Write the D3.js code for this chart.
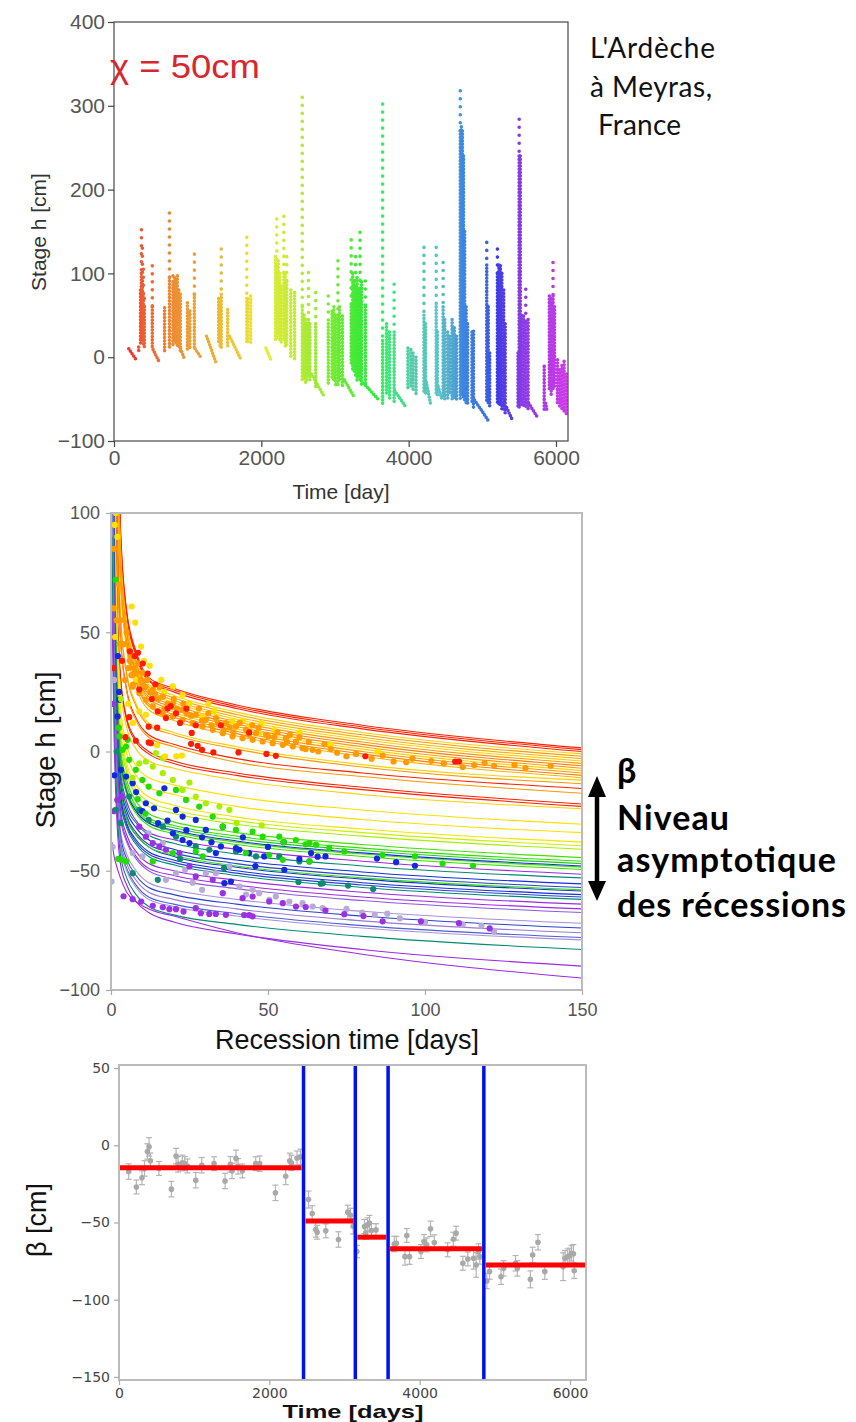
<!DOCTYPE html>
<html>
<head>
<meta charset="utf-8">
<script src="https://cdn.jsdelivr.net/npm/d3@7"></script>
<style>
  body { margin: 0; background: #fff; }
  svg { display: block; }
</style>
</head>
<body>
<svg id="fig" width="856" height="1422"></svg>
<script>
// ---------- top panel : stage record, one column of daily readings per flood ----------
// [time (day), highest stage, stage where the readings get dense, lowest stage]
const stageColumns = [
  [335,12,12,5],[360,80,80,15],[372,152,100,18],[385,130,95,20],[398,105,75,12],[412,70,60,10],
  [520,109,60,9],[686,59,59,5],[753,172,95,12],[800,97,90,15],[820,95,95,18],[840,92,92,15],
  [860,97,97,12],[880,80,80,10],[900,75,75,8],[997,65,65,8],[1030,55,55,8],[1091,123,75,10],
  [1420,70,70,15],[1440,65,65,12],[1456,129,75,10],[1543,57,57,12],[1803,143,70,15],[1815,70,70,17],
  [1855,73,73,15],[2192,120,120,20],[2210,165,110,22],[2230,115,115,25],[2250,100,100,20],
  [2270,85,85,18],[2306,168,100,20],[2325,100,100,12],[2345,120,90,15],[2400,80,80,0],[2452,77,77,-3],
  [2556,310,60,-27],[2582,50,50,-28],[2600,45,45,-30],[2620,40,40,-28],[2640,101,45,-25],
  [2660,40,40,-30],[2738,77,40,-35],[2909,73,40,-31],[2960,55,55,-25],[2985,60,60,-30],
  [3010,50,50,-33],[3040,115,50,-35],[3060,60,60,-30],[3101,49,49,-37],[3220,140,60,-10],
  [3240,100,100,-15],[3260,90,90,-20],[3280,120,85,-25],[3300,95,95,-30],[3320,80,80,-25],
  [3340,149,80,-30],[3360,90,90,-35],[3413,91,60,-31],[3647,302,20,-55],[3700,40,40,-45],
  [3740,30,30,-50],[3803,87,30,-55],[3990,11,11,-40],[4030,9,9,-35],[4060,5,5,-40],[4100,0,0,-45],
  [4208,131,50,-43],[4230,40,40,-45],[4374,131,60,-45],[4390,30,30,-48],[4468,113,60,-48],
  [4490,45,45,-50],[4530,30,30,-50],[4560,25,25,-45],[4590,45,45,-52],[4620,35,35,-50],
  [4650,25,25,-52],[4701,318,270,-50],[4715,275,275,-45],[4730,270,270,-48],[4745,240,240,-50],
  [4760,150,150,-52],[4780,60,60,-55],[4800,40,40,-55],[4860,30,30,-55],[4880,31,31,-60],
  [5060,137,110,-55],[5080,60,60,-58],[5100,5,5,-60],[5205,129,100,-55],[5225,110,110,-58],
  [5245,109,109,-60],[5265,100,100,-62],[5290,80,80,-65],[5310,40,40,-68],[5485,5,5,-60],
  [5500,284,240,-60],[5515,240,240,-55],[5530,50,50,-58],[5560,49,49,-60],[5590,81,40,-62],
  [5621,45,45,-65],[5840,-11,-11,-65],[5910,73,73,-40],[5935,70,70,-45],[5960,113,73,-40],
  [5980,60,60,-35],[6020,-3,-3,-55],[6050,-15,-15,-60],[6080,-10,-10,-65],[6110,-5,-5,-68],
  [6140,-20,-20,-70]
];
// recession tails [t0, h0, t1, h1]
const stageTails = [
  [200,10,300,-3],[530,9,610,-5],[904,10,960,-3],[1100,10,1180,0],[1257,25,1387,-7],
  [1570,25,1725,-3],[2062,11,2140,-5],[2680,-20,2842,-45],[3127,-27,3257,-47],[3387,-31,3595,-51],
  [3810,-40,3958,-59],[4240,-30,4296,-55],[4400,-35,4450,-50],[4894,-51,5076,-75],
  [5330,-60,5413,-76],[5630,-55,5751,-72],[5860,-55,5880,-65]
];
const topXTicks = [0, 2000, 4000, 6000];
const topYTicks = [-100, 0, 100, 200, 300, 400];

// ---------- middle panel : recession curves ----------
const recT = [0.3, 1, 2, 3, 5, 8, 12, 20, 40, 80, 150];
const curveColors = [
  "#ff2000","#ff2000","#ff2000","#ffd000","#ff9900","#ffb300","#ffd000","#ff9900","#ff7f00","#ff9900",
  "#ffd000","#ff9900","#ff7f00","#ffb300","#ffd000","#ff9900","#ff2000","#ff9900","#ff2000","#ff2000",
  "#ffd000","#ffe000","#ffe000","#f2e600","#c8f000","#a8ee00","#44e000","#33dd00","#22cc22","#44e000",
  "#1030e0","#33dd00","#9a2be2","#008a73","#1030e0","#2a44c8","#1030e0","#33dd00","#1030e0","#2a44c8",
  "#008a73","#9a2be2","#9a2be2","#8a5be0","#a890d8","#2a44c8","#9a7ad0","#4a5fd0","#a890d8","#008a73",
  "#9a2be2","#9a2be2"
];
const curveValues = [
  [600,330,160,95,59,42,31,26.5,19.5,11,1.5],
  [600,325,157,93,58,41,30,25.8,18.8,10.3,0.8],
  [600,320,154,91,57,40,29.5,25,18,9.5,0],
  [560,300,145,86,54,38,28,23.5,16.5,8,-1],
  [560,298,143,85,53,37,27,22.5,15.5,7,-2],
  [550,295,141,83,52,36,26,21.5,14.5,6,-3],
  [550,292,139,82,51,35,25,20.5,13.5,5,-4],
  [540,290,137,80,50,34,24,19.5,12.5,4,-5],
  [540,288,135,79,49,33,23,18.5,11.5,3,-6],
  [530,285,133,77,48,32,22,17.5,10.5,2,-7],
  [530,282,131,76,47,31,21,16.5,9.5,1,-8],
  [520,280,129,74,46,30,20,15.5,8.5,0,-9],
  [520,278,127,73,45,29,19,14.5,7.5,-1,-10],
  [510,275,124,71,43,27,17.5,13,6.5,-2,-11],
  [420,230,105,58,33,20,12,8,2,-5.5,-12],
  [420,228,103,56,32,19,11,7,1,-6.5,-13.5],
  [380,200,90,48,26,14,7,3,-3,-9,-15.5],
  [380,198,88,47,25,13,6,2,-4.5,-10.5,-17.5],
  [300,150,62,32,14,5,0,-4,-9,-15,-22],
  [300,148,60,31,13,4,-1,-5,-10,-16,-23],
  [280,140,55,27,10,1,-4,-7,-12,-18,-24],
  [260,125,45,19,3,-6,-11,-14,-19,-24.5,-30.5],
  [250,118,40,15,-1,-10,-15,-18,-23,-28.5,-34],
  [240,110,35,10,-5,-14,-19,-22.5,-27.5,-32.5,-38],
  [230,105,32,8,-7,-16,-21,-24.5,-29,-34,-39.5],
  [225,100,30,6,-9,-18,-23,-26,-30.5,-35.5,-41],
  [220,95,26,2,-12,-21,-26,-29.5,-34,-39,-44.5],
  [215,92,24,0,-14,-23,-28,-31,-35.5,-40.5,-46],
  [210,90,22,-2,-16,-24,-29,-32,-36.5,-41.5,-47],
  [205,88,20,-3,-17,-25,-30,-33.5,-38,-43,-48.5],
  [200,86,19,-4,-17,-25,-30,-33,-37.5,-42.5,-48],
  [200,84,18,-5,-18,-26,-31,-34.5,-39,-44,-49.5],
  [190,78,14,-8,-21,-29,-34,-37,-41,-46,-51.5],
  [185,75,12,-10,-23,-30,-35,-38.5,-43,-48,-53],
  [180,72,9,-13,-25,-32,-37,-41,-45.5,-50.5,-55.5],
  [175,70,7,-15,-27,-34,-39,-42.5,-47,-52,-57],
  [170,68,5,-16,-28,-35,-40,-44,-48.5,-53.5,-58.5],
  [170,67,5,-16,-28,-35,-40,-43.5,-48,-53,-58],
  [165,64,2,-18,-30,-37,-42,-45.5,-50,-55,-60],
  [160,62,0,-20,-31,-38,-43,-46.5,-51,-56,-61],
  [160,60,-1,-21,-32,-39,-44,-47.5,-52,-57,-62],
  [150,55,-5,-24,-35,-42,-47,-50,-54,-59,-64],
  [145,52,-7,-26,-37,-44,-49,-52,-56,-61,-66],
  [140,48,-9,-28,-38,-45,-50,-53.5,-57.5,-62.5,-67.5],
  [120,38,-15,-33,-43,-50,-55,-58,-62,-67,-72],
  [115,35,-17,-35,-45,-52,-57,-60,-64,-69,-74],
  [110,32,-19,-37,-47,-54,-59,-62,-66,-71,-76],
  [105,29,-21,-39,-49,-56,-61,-64,-68,-73,-78],
  [100,27,-22,-40,-50,-57,-62,-65,-69,-74,-79],
  [90,20,-26,-43,-53,-60,-65,-68.5,-72.5,-77.5,-83],
  [60,5,-32,-47,-56,-63,-67.5,-71.5,-76.5,-83,-90],
  [-38,-44,-49,-53,-59,-63,-66,-69,-76,-85,-95]
];
// observed recession points [recession time, stage], one array per colour
const midRed = [[3.5,38],[6,42],[7.5,40],[8.6,41.4],[10.1,36.9],[11.7,32.7],[14.1,28.2],[4.6,6],[5.8,14.4],
  [7.9,4.5],[12,3.8],[12.7,3.5],[12,10.4],[14.9,16.8],[17.5,14],[20.7,16],[27,11],[25.5,3.2],[27.6,2.4],
  [29,0.7],[32.6,-0.4],[40.6,-0.4],[49.5,-1],[52.5,-1.8],[81,-2],[109.6,-4.2],[110.8,-4.2],[0.8,35],
  [14.7,10],[25.7,7.8],[22,12],[18,18],[9,26],[13,22],[19,19],[24,18],[35,11],[44,8]];
const midOrange = [[5,50],[4,45],[5.5,35],[6.5,32],[7,28],[4.5,30],[3,55],[2.5,70],[1,85],[0.8,60],[1.8,55],
  [2.8,45],[6.9,27.2],[9,24.5],[11.1,21.7],[13.3,18.9],[16.5,16],[19.7,14.7],[22.8,13.3],[26,11.9],
  [29.2,10.5],[32.4,9.1],[35.6,7.7],[38.7,6.3],[41.9,5.6],[45.1,4.9],[48.3,4.2],[51.5,3.5],[54.7,2.8],
  [57.9,2.1],[61,1.4],[64.2,0.7],[10.1,28.6],[13.3,25.9],[16.5,23],[19.7,20.3],[22.8,17.5],[27,15.4],
  [30.2,13.3],[33.4,14],[36.6,11.9],[39.8,10.5],[43,9.1],[46.2,7.7],[49.4,7],[55.7,5.6],[58.9,4.2],
  [37.8,10],[43.9,7],[50,6.3],[56,4],[62,1],[72,-0.5],[86.5,-1.7],[90,-4.2],[96,-3],[102,-4],
  [115.7,-5.7],[122,-6],[128.5,-5.7],[66,0],[75,-2],[8,33],[9.5,30],[11,27],[12.5,25],[15,22],[18,20],
  [21,18],[24,16],[28,18],[31,16],[34,12],[41,12],[47,10],[53,8],[60,6],[68,3],
  [6,38],[7.5,35],[8.5,37],[10,33],[11.5,30],[14,24],[15.5,27],[17,18],[20,22],[23,20],[25.5,15],
  [29,13],[32,11],[36,9],[39,8],[45,11],[52,6],[57,7],[63,4],[70,1],[78,-1],[83,-3],[94,-4.5],
  [106,-5],[112,-6.5],[119,-4.8],[132,-7],[140,-6]];
const midYellow = [[6.6,60.8],[7.7,54],[9.6,44],[8,30],[1.5,100],[2,90],[1.2,95],[1.3,48],[12.3,36],
  [19.7,27.3],[22.8,23.8],[29.2,14.7],[38.7,12.6],[44,10.5],[47.2,7.7],[9,16.8],[11.1,15.4],[14.7,2.6],
  [17.2,-2],[20.8,-2],[22.6,-1.7],[14,28],[17,25],[25,20],[33,17],[42,13],[52,9],[60,8],[70,3],[85,0],
  [5.5,20],[7,12],[10.5,38],[16,30],[31,20],[48,12]];
const midLime = [[3.2,22],[11.1,-4.2],[13.3,-6.3],[16.5,-9.1],[19.7,-11.9],[22.8,-16.1],[27,-18.9],
  [30.2,-21.7],[34.5,-23.1],[37.7,-24.5],[14.3,-0.7],[16.5,-2.8],[6.9,-11.1],[25,-13],[40,-30],[48,-31],[9,-5]];
const midGreen = [[1.5,72],[2.5,10],[2.3,-45],[4.8,2.1],[5.8,-3.5],[7.9,-7.7],[10,-11.9],[12,-14.7],
  [15.4,-17.5],[20.7,-16.1],[23.9,-20.3],[28.1,-23.1],[32.4,-27.3],[35.6,-31.5],[39.8,-32.9],[45.1,-33.6],
  [48.3,-35.7],[53.6,-35.7],[58.9,-37.1],[63.2,-38.4],[65.3,-39.1],[2.7,6.3],[3.7,0.7],[5.3,4.9],
  [3.2,-45.4],[4.8,-46.1],[13.3,-46.1],[19.7,-42.6],[27,-41.9],[29.2,-44],[43,-42.6],[50.4,-43.3],
  [54.7,-45.4],[63.2,-46.1],[69.5,-40.4],[74.3,-41.9],[86.5,-43.4],[96.8,-44],[105.6,-47],[115.3,-47.9],
  [55,-38],[62,-38.9],[8.5,-20],[11,-26]];
const midTeal = [[1.8,0],[3,-30],[1.5,-24.5],[5.8,-18.9],[9,-24.5],[12,-28.7],[16.5,-31.5],[20.7,-35.7],
  [27,-39.8],[31.3,-41.2],[39.8,-41.9],[46.2,-44],[53.6,-44],[60,-46.1],[63.2,-46.1],[67.4,-55.2],
  [14.9,-53.8],[6.9,-51],[59.7,-54.7],[66.8,-55.4],[75.5,-56.2],[83.5,-57.7],[22,-45],[36,-49]];
const midBlue = [[2.2,40],[2.6,25],[1.1,-10],[2.7,21.7],[2.1,14.7],[3.2,-7.7],[4.8,-10.5],[6.9,-13.3],
  [11.1,-21.7],[13.7,-23.8],[17,-15.4],[20.7,-24.5],[22.8,-27.3],[27,-28.7],[30.2,-32.9],[35.6,-31.5],
  [39.8,-40.5],[40.9,-41.2],[44,-42.6],[48.8,-44],[19.7,-34.3],[22.8,-37.1],[25,-38.4],[33.4,-42.6],
  [35,-39.8],[36.1,-55.2],[38.2,-54.5],[55.2,-49.6],[63.7,-42.6],[55,-38],[65.8,-44.1],[68.3,-44],
  [84.7,-44.9],[90.8,-46.4],[96.8,-47.9],[60,-45],[8,-17],[10,-25],[15,-30],[18,-29],[24,-33],[29,-36],
  [32,-38],[42,-36],[46,-48],[50,-40]];
const midPurple = [[0.6,20],[0.9,-25],[2,-20.3],[3.4,-18.9],[9,-31.5],[11.1,-35.7],[13.3,-38.4],
  [15.4,-39.8],[17.5,-41.2],[21.8,-42.6],[25,-48.2],[27,-52.4],[32.4,-53.8],[35.6,-59.4],[41.9,-61.5],
  [45.1,-60.8],[50.4,-62.9],[54.7,-63.6],[58.9,-65],[4,-60.7],[6.9,-61.9],[9.6,-62.9],[13.3,-64.7],
  [16.5,-65.3],[18.6,-66.1],[20.7,-66.1],[23.1,-67.1],[27,-65.7],[28.6,-67.8],[31.3,-68.1],[33.4,-68.1],
  [36.6,-68.5],[42.4,-68.6],[44,-68.6],[45.1,-69.1],[62,-65.2],[68.3,-66.7],[74.3,-68.2],[80.4,-69],
  [86.5,-71.2],[98.7,-71.2],[110.8,-72],[120.6,-74.2]];
const midLilac = [[0.5,-40],[1,30],[0.2,-54.5],[12,-34.3],[16.5,-38.4],[17.5,-53.8],[20.7,-51],[23.6,-49.6],
  [30.2,-51],[33.4,-51],[37.7,-48.2],[40.9,-56.6],[45.1,-58],[47.2,-59.4],[50.4,-62.2],[52.5,-60.8],
  [56.8,-62.9],[61,-63.6],[64.2,-65],[67.4,-65.7],[6.9,-42.6],[10,-44],[75,-66],[80,-67.5],[84,-68.5],
  [88,-68],[92,-70],[100,-71.5],[112,-72.5],[118,-73],[122,-75.5],[26,-55],[29,-58],[43,-60]];
const midXTicks = [0, 50, 100, 150];
const midYTicks = [-100, -50, 0, 50, 100];

// ---------- bottom panel : beta per recession, with change points ----------
const betaT = [129,231,306,340,378,400,418,532,697,759,786,843,874,910,1021,1101,1265,1411,1482,1504,1557,
  1584,1641,1819,1872,2081,2218,2272,2294,2369,2414,2521,2570,2618,2636,2751,2920,3044,3080,3115,3165,
  3266,3307,3332,3358,3282,3419,3662,3690,3829,3804,3865,4017,4058,4093,4144,4195,4372,4448,4484,4575,
  4641,4717,4752,4783,4800,4894,4930,5082,5118,5275,5300,5473,5503,5574,5665,5909,5934,5970,5995,6020,
  6046,6056];
const betaV = [-17,-27,-21,-15,-4,-1,-10,-15,-28.4,-7,-12.3,-11.4,-11.9,-13.4,-22.6,-12.9,-11.9,-23.1,-12.3,
  -16.6,-8.6,-13.6,-16.6,-11.9,-11.9,-30.8,-20,-10.1,-11.4,-8.2,-7.5,-35.1,-44.2,-54.5,-56.3,-55.4,-61,
  -43.3,-45.3,-52.4,-68.8,-52.6,-51.5,-50.4,-55.2,-56.9,-54.8,-63.9,-63.5,-58.4,-72.1,-72.1,-68.8,-62.3,
  -64.5,-54.1,-63,-67.7,-60.8,-56.9,-76.4,-73.6,-73.2,-77.5,-68.8,-72,-87.9,-81.8,-85.1,-79.7,-76.4,-79.7,
  -86.8,-71,-62.8,-81.8,-78.6,-73.2,-72.1,-71.6,-69.9,-70.3,-81.2];
const betaErr = [5,4.5,4.5,5,5,6,5,4.5,5,5,5,5,4.5,4.5,5,5,4.5,5,5,5,5.5,5,4.5,4.5,5,5,5.5,5,5,4.5,5,
  5.5,5,5,4.5,4.5,5,4.5,4.5,5,4,4.5,4.5,5,4.5,4,4,5,4.5,4.5,5.5,5,4.5,4.5,4.5,5,5,4.5,4.5,4.5,4.5,4.5,
  7,8,5,5,5,5,5,5,5,5,5.5,5,5,5,9,5,5,5,5,6,5];
const breakT = [2455, 3144, 3580, 4854];
const segStart = [0, 2455, 3144, 3580, 4854];
const segEnd = [2455, 3144, 3580, 4854, 6213];
const segBeta = [-14.5, -49, -59.5, -67, -77.5];
const botXTicks = [0, 2000, 4000, 6000];
const botYTicks = [50, 0, -50, -100, -150];

// ---------- drawing ----------
const svg = d3.select("#fig");
svg.append("rect").attr("width", 856).attr("height", 1422).attr("fill", "#fff");
const defs = svg.append("defs");
function clip(id, x, y, w, h) {
  defs.append("clipPath").attr("id", id).append("rect")
    .attr("x", x).attr("y", y).attr("width", w).attr("height", h);
}

// colour along the record: red -> yellow -> green -> teal -> blue -> magenta
const hueOfTime = d3.scaleLinear()
  .domain([200,400,850,1450,1800,2250,2550,3000,3650,4000,4370,4750,5060,5250,5500,6150])
  .range([2,14,30,44,54,68,78,100,135,160,180,214,226,245,265,292])
  .clamp(true);
const satOfTime = d3.scaleLinear()
  .domain([200, 3700, 4100, 4500, 4750, 6150])
  .range([0.85, 0.8, 0.5, 0.5, 0.75, 0.8])
  .clamp(true);
const timeColor = t => d3.hsl(hueOfTime(t), satOfTime(t), 0.52).toString();

function styleAxis(g, size, color, family, tickColor) {
  g.select(".domain").remove();
  g.selectAll(".tick line").attr("stroke", tickColor).attr("stroke-width", 1.2);
  g.selectAll(".tick text").attr("font-size", size).attr("fill", color).attr("font-family", family);
}

// ===== TOP =====
const xTop = d3.scaleLinear().domain([0, 6163]).range([114, 568]);
const yTop = d3.scaleLinear().domain([-100, 400]).range([441, 22]);
clip("clipTop", 114, 22, 454, 419);
const gTop = svg.append("g").attr("clip-path", "url(#clipTop)").attr("opacity", 0.9);

gTop.selectAll("line.tail").data(stageTails).join("line")
  .attr("x1", d => xTop(d[0])).attr("y1", d => yTop(d[1]))
  .attr("x2", d => xTop(d[2])).attr("y2", d => yTop(d[3]))
  .attr("stroke", d => timeColor(d[0]))
  .attr("stroke-width", 3.6).attr("stroke-linecap", "round").attr("stroke-dasharray", "0 3");

gTop.selectAll("line.sparse").data(stageColumns.filter(d => d[1] > d[2])).join("line")
  .attr("x1", d => xTop(d[0])).attr("x2", d => xTop(d[0]))
  .attr("y1", d => yTop(d[1])).attr("y2", d => yTop(d[2]))
  .attr("stroke", d => timeColor(d[0]))
  .attr("stroke-width", 3.6).attr("stroke-linecap", "round").attr("stroke-dasharray", "0 8");

gTop.selectAll("line.dense").data(stageColumns).join("line")
  .attr("x1", d => xTop(d[0])).attr("x2", d => xTop(d[0]))
  .attr("y1", d => yTop(d[2])).attr("y2", d => yTop(d[3]))
  .attr("stroke", d => timeColor(d[0]))
  .attr("stroke-width", 3.6).attr("stroke-linecap", "round").attr("stroke-dasharray", "0 3.3");

svg.append("rect").attr("x", 114).attr("y", 22).attr("width", 454).attr("height", 419)
  .attr("fill", "none").attr("stroke", "#555").attr("stroke-width", 1.3);
svg.append("g").attr("transform", "translate(0,441)")
  .call(d3.axisBottom(xTop).tickValues(topXTicks).tickSize(6).tickPadding(3).tickFormat(d3.format("d")))
  .call(g => styleAxis(g, 21, "#555", "Liberation Sans, Arial, sans-serif", "#444"));
svg.append("g").attr("transform", "translate(114,0)")
  .call(d3.axisLeft(yTop).tickValues(topYTicks).tickSize(6).tickPadding(3))
  .call(g => styleAxis(g, 21, "#555", "Liberation Sans, Arial, sans-serif", "#444"));
svg.append("text").attr("x", 341).attr("y", 499).attr("text-anchor", "middle")
  .attr("font-family", "Liberation Sans, Arial, sans-serif").attr("font-size", 21).attr("fill", "#333")
  .text("Time [day]");
svg.append("text").attr("transform", "translate(46,232) rotate(-90)").attr("text-anchor", "middle")
  .attr("font-family", "Liberation Sans, Arial, sans-serif").attr("font-size", 21).attr("fill", "#333")
  .text("Stage h [cm]");
svg.append("text").attr("x", 110).attr("y", 78)
  .attr("font-family", "Liberation Sans, Arial, sans-serif").attr("font-size", 33).attr("fill", "#d8262f")
  .attr("textLength", 150).attr("lengthAdjust", "spacingAndGlyphs")
  .text("χ = 50cm");
const place = svg.append("text").attr("font-family", "Lato, 'Open Sans', sans-serif")
  .attr("font-size", 28).attr("fill", "#111").attr("lengthAdjust", "spacingAndGlyphs");
place.append("tspan").attr("x", 590).attr("y", 58).attr("textLength", 125).text("L'Ardèche");
place.append("tspan").attr("x", 590).attr("y", 97).attr("textLength", 122).text("à Meyras,");
place.append("tspan").attr("x", 598).attr("y", 135).attr("textLength", 83).text("France");

// ===== MIDDLE =====
const xMid = d3.scaleLinear().domain([0, 150]).range([111, 582]);
const yMid = d3.scaleLinear().domain([-100, 100]).range([990, 513]);
clip("clipMid", 111, 513, 471, 477);
const gMid = svg.append("g").attr("clip-path", "url(#clipMid)");
const recLine = d3.line().x((v, i) => xMid(recT[i])).y(v => yMid(v)).curve(d3.curveMonotoneX);
gMid.selectAll("path.curve").data(curveValues).join("path")
  .attr("d", recLine).attr("fill", "none")
  .attr("stroke", (d, i) => curveColors[i]).attr("stroke-width", 1.1);

const pointGroups = [
  [midLilac, "#b8acd6"], [midPurple, "#9b30e4"], [midTeal, "#0f8a72"], [midBlue, "#1428e0"],
  [midGreen, "#22dd00"], [midLime, "#a8f000"], [midYellow, "#ffe000"], [midOrange, "#ff9a00"],
  [midRed, "#ff1a00"]
];
pointGroups.forEach(([pts, col]) => {
  gMid.append("g").selectAll("circle").data(pts).join("circle")
    .attr("cx", d => xMid(d[0])).attr("cy", d => yMid(d[1])).attr("r", 3.1).attr("fill", col);
});

svg.append("rect").attr("x", 111).attr("y", 513).attr("width", 471).attr("height", 477)
  .attr("fill", "none").attr("stroke", "#bbb").attr("stroke-width", 2);
svg.append("g").attr("transform", "translate(0,990)")
  .call(d3.axisBottom(xMid).tickValues(midXTicks).tickSize(5).tickPadding(8))
  .call(g => styleAxis(g, 18, "#555", "Liberation Sans, Arial, sans-serif", "#aaa"));
svg.append("g").attr("transform", "translate(111,0)")
  .call(d3.axisLeft(yMid).tickValues(midYTicks).tickSize(5).tickPadding(6))
  .call(g => styleAxis(g, 18, "#555", "Liberation Sans, Arial, sans-serif", "#aaa"));
svg.append("text").attr("x", 347).attr("y", 1049).attr("text-anchor", "middle")
  .attr("font-family", "Liberation Sans, Arial, sans-serif").attr("font-size", 27).attr("fill", "#111")
  .text("Recession time [days]");
svg.append("text").attr("transform", "translate(55,750) rotate(-90)").attr("text-anchor", "middle")
  .attr("font-family", "Liberation Sans, Arial, sans-serif").attr("font-size", 28).attr("fill", "#111")
  .text("Stage h [cm]");

// double arrow and beta annotation
svg.append("line").attr("x1", 597).attr("x2", 597).attr("y1", 792).attr("y2", 886)
  .attr("stroke", "#000").attr("stroke-width", 4.5);
svg.append("path").attr("d", "M597,776 L606,797 L588,797 Z").attr("fill", "#000");
svg.append("path").attr("d", "M597,901 L606,881 L588,881 Z").attr("fill", "#000");
const note = svg.append("text").attr("font-family", "Lato, 'Open Sans', sans-serif")
  .attr("font-weight", "bold").attr("font-size", 34).attr("fill", "#000")
  .attr("lengthAdjust", "spacingAndGlyphs");
note.append("tspan").attr("x", 617).attr("y", 783).text("β");
note.append("tspan").attr("x", 617).attr("y", 830).attr("textLength", 112).text("Niveau");
note.append("tspan").attr("x", 617).attr("y", 872).attr("textLength", 219).text("asymptotique");
note.append("tspan").attr("x", 617).attr("y", 917).attr("textLength", 229).text("des récessions");

// ===== BOTTOM =====
const xBot = d3.scaleLinear().domain([0, 6213]).range([119, 586]);
const yBot = d3.scaleLinear().domain([-152, 52]).range([1380, 1065]);
clip("clipBot", 119, 1065, 467, 315);
const gBot = svg.append("g").attr("clip-path", "url(#clipBot)");
const betaIdx = d3.range(betaT.length);
gBot.selectAll("line.err").data(betaIdx).join("line")
  .attr("x1", i => xBot(betaT[i])).attr("x2", i => xBot(betaT[i]))
  .attr("y1", i => yBot(betaV[i] + betaErr[i])).attr("y2", i => yBot(betaV[i] - betaErr[i]))
  .attr("stroke", "#b4b4b4").attr("stroke-width", 1.2);
gBot.selectAll("line.capTop").data(betaIdx).join("line")
  .attr("x1", i => xBot(betaT[i]) - 3).attr("x2", i => xBot(betaT[i]) + 3)
  .attr("y1", i => yBot(betaV[i] + betaErr[i])).attr("y2", i => yBot(betaV[i] + betaErr[i]))
  .attr("stroke", "#b4b4b4").attr("stroke-width", 1.2);
gBot.selectAll("line.capBot").data(betaIdx).join("line")
  .attr("x1", i => xBot(betaT[i]) - 3).attr("x2", i => xBot(betaT[i]) + 3)
  .attr("y1", i => yBot(betaV[i] - betaErr[i])).attr("y2", i => yBot(betaV[i] - betaErr[i]))
  .attr("stroke", "#b4b4b4").attr("stroke-width", 1.2);
gBot.selectAll("circle").data(betaIdx).join("circle")
  .attr("cx", i => xBot(betaT[i])).attr("cy", i => yBot(betaV[i])).attr("r", 2.8).attr("fill", "#a9a9a9");
gBot.selectAll("line.seg").data(segBeta).join("line")
  .attr("x1", (d, i) => xBot(segStart[i]) + (i ? 2 : 1)).attr("x2", (d, i) => xBot(segEnd[i]) - (i < 4 ? 2 : 0))
  .attr("y1", d => yBot(d)).attr("y2", d => yBot(d))
  .attr("stroke", "#ff0000").attr("stroke-width", 5);
gBot.selectAll("line.brk").data(breakT).join("line")
  .attr("x1", d => xBot(d)).attr("x2", d => xBot(d)).attr("y1", 1065).attr("y2", 1380)
  .attr("stroke", "#0010f0").attr("stroke-width", 3.5);

svg.append("rect").attr("x", 119).attr("y", 1065).attr("width", 467).attr("height", 315)
  .attr("fill", "none").attr("stroke", "#bbb").attr("stroke-width", 2);
svg.append("g").attr("transform", "translate(0,1380)")
  .call(d3.axisBottom(xBot).tickValues(botXTicks).tickSize(5).tickPadding(3).tickFormat(d3.format("d")))
  .call(g => styleAxis(g, 14, "#444", "DejaVu Sans, sans-serif", "#aaa"));
svg.append("g").attr("transform", "translate(119,0)")
  .call(d3.axisLeft(yBot).tickValues(botYTicks).tickSize(5).tickPadding(4))
  .call(g => styleAxis(g, 14, "#444", "DejaVu Sans, sans-serif", "#aaa"));
svg.append("text").attr("x", 353).attr("y", 1418).attr("text-anchor", "middle")
  .attr("font-family", "Liberation Sans, Arial, sans-serif").attr("font-weight", "bold").attr("font-size", 19)
  .attr("fill", "#111").attr("textLength", 141).attr("lengthAdjust", "spacingAndGlyphs")
  .text("Time [days]");
svg.append("text").attr("transform", "translate(46,1220) rotate(-90)").attr("text-anchor", "middle")
  .attr("font-family", "Liberation Sans, Arial, sans-serif").attr("font-size", 27).attr("fill", "#111")
  .text("β [cm]");
</script>
</body>
</html>
